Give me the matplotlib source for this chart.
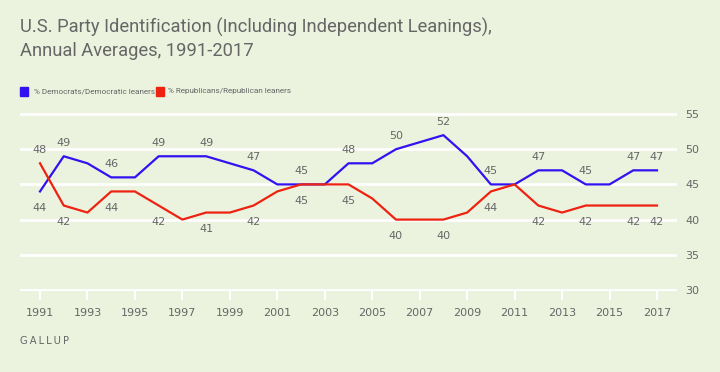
import matplotlib.pyplot as plt

years = list(range(1991, 2018))
dem = [44, 49, 48, 46, 46, 49, 49, 49, 48, 47, 45, 45, 45, 48, 48, 50, 51, 52, 49, 45, 45, 47, 47, 45, 45, 47, 47]
rep = [48, 42, 41, 44, 44, 42, 40, 41, 41, 42, 44, 45, 45, 45, 43, 40, 40, 40, 41, 44, 45, 42, 41, 42, 42, 42, 42]
labeled_years = [1991] + list(range(1992, 2017, 2)) + [2017]

bg = "#ebf3de"
blue = "#3311f0"
red = "#ee2211"
grey = "#666666"
narrow = ["DejaVu Sans Condensed", "Roboto"]

fig = plt.figure(figsize=(7.2, 3.72), dpi=100, facecolor=bg)
ax = fig.add_axes([20 / 720, (372 - 291) / 372, 657 / 720, 178 / 372])
ax.set_facecolor(bg)

# white gridlines
for v in [30, 35, 40, 45, 50, 55]:
    ax.axhline(v, color="white", lw=2, zorder=1)

ax.plot(years, dem, color=blue, lw=1.6, zorder=3)
ax.plot(years, rep, color=red, lw=1.6, zorder=3)

# data labels
for i, y in enumerate(years):
    if y not in labeled_years:
        continue
    d, r = dem[i], rep[i]
    dem_up = d >= r
    ax.annotate(str(d), (y, d), xytext=(0, 9.5 if dem_up else -12), textcoords="offset points",
                ha="center", va="center", fontsize=8, color=grey)
    ax.annotate(str(r), (y, r), xytext=(0, -12 if dem_up else 9.5), textcoords="offset points",
                ha="center", va="center", fontsize=8, color=grey)

ax.set_xlim(1991 - 20 / 23.73, 2017 + 20 / 23.73)
ax.set_ylim(29.85, 55.15)
ax.set_xticks(list(range(1991, 2018, 2)))
ax.set_yticks([30, 35, 40, 45, 50, 55])
ax.yaxis.tick_right()
ax.tick_params(axis="y", length=0, pad=6, labelsize=8, labelcolor=grey)
ax.tick_params(axis="x", length=6.5, width=1.5, color="white", pad=6, labelsize=8, labelcolor=grey)
for s in ax.spines.values():
    s.set_visible(False)

# title
fig.text(20 / 720, 1 - 27 / 372, "U.S. Party Identification (Including Independent Leanings),",
         fontsize=13.2, color=grey, family=narrow, va="center")
fig.text(20 / 720, 1 - 51 / 372, "Annual Averages, 1991-2017",
         fontsize=13.2, color=grey, family=narrow, va="center")

# legend
fig.patches.append(plt.Rectangle((20 / 720, 1 - 96 / 372), 8 / 720, 9 / 372,
                                 transform=fig.transFigure, color=blue))
fig.text(34 / 720, 1 - 91.5 / 372, "% Democrats/Democratic leaners", fontsize=5.9,
         color=grey, family=narrow, va="center")
fig.patches.append(plt.Rectangle((156 / 720, 1 - 96 / 372), 8 / 720, 9 / 372,
                                 transform=fig.transFigure, color=red))
fig.text(168 / 720, 1 - 91.5 / 372, "% Republicans/Republican leaners", fontsize=5.9,
         color=grey, family=narrow, va="center")

fig.text(20 / 720, 1 - 341 / 372, "G\u2009A\u2009L\u2009L\u2009U\u2009P", fontsize=7.2,
         color=grey, va="center")

fig.savefig("out.png", dpi=100, facecolor=bg)
